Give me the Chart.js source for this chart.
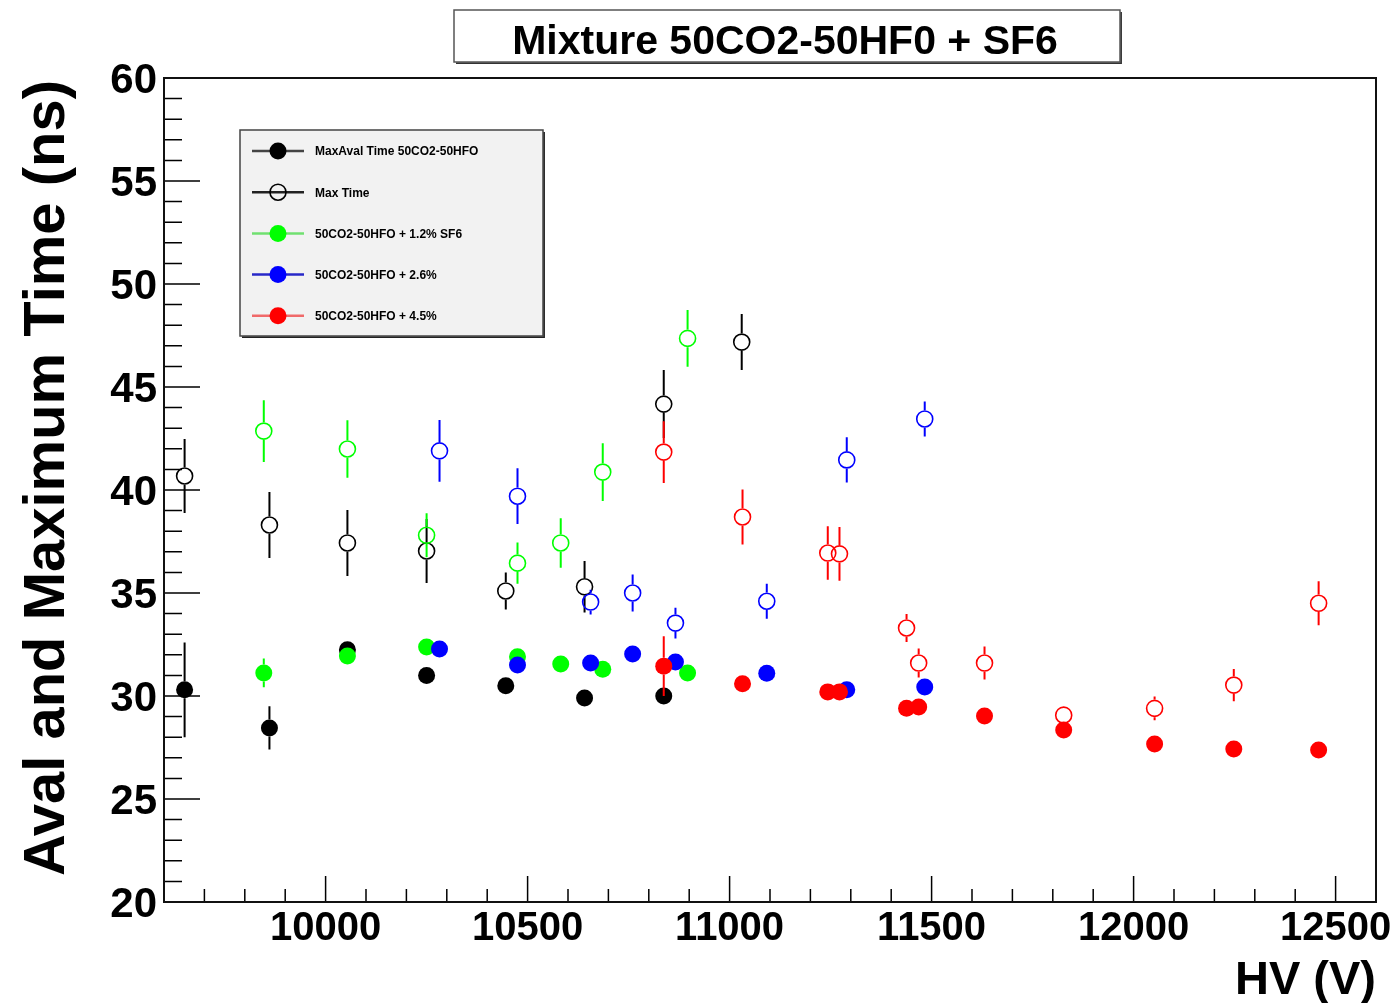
<!DOCTYPE html>
<html>
<head>
<meta charset="utf-8">
<title>Mixture 50CO2-50HF0 + SF6</title>
<script src="https://cdn.jsdelivr.net/npm/chart.js@4.4.1/dist/chart.umd.min.js"></script>
<style>
  html, body { margin: 0; padding: 0; background: #fff; }
  canvas { display: block; }
</style>
</head>
<body>
<canvas id="chart" width="1391" height="1003"></canvas>
<script>
const FONT = '"Liberation Sans", Arial, Helvetica, sans-serif';

// Axis ranges and labelled ticks
const xMin = 9600, xMax = 12600;
const yMin = 20, yMax = 60;
const xTickValues = [10000, 10500, 11000, 11500, 12000, 12500];
const yTickValues = [20, 25, 30, 35, 40, 45, 50, 55, 60];

// Text
const titleText = 'Mixture 50CO2-50HF0 + SF6';
const xTitle = 'HV (V)';
const yTitle = 'Aval and Maximum Time (ns)';
const legendLabels = [
  'MaxAval Time 50CO2-50HFO',
  'Max Time',
  '50CO2-50HFO + 1.2% SF6',
  '50CO2-50HFO + 2.6%',
  '50CO2-50HFO + 4.5%'
];

// 50CO2-50HFO, no SF6
const hvPure = [9651, 9861, 10054, 10250, 10446, 10641, 10837];
const avalPure = [30.3, 28.45, 32.25, 31.0, 30.5, 29.9, 30.0];
const avalPureErr = [2.3, 1.05, 0.3, 0.3, 0.3, 0.3, 0.3];
const hvPureMax = [9651, 9861, 10054, 10250, 10446, 10641, 10837, 11030];
const maxPure = [40.68, 38.3, 37.43, 37.04, 35.1, 35.3, 44.17, 47.18];
const maxPureErr = [1.8, 1.6, 1.6, 1.55, 0.9, 1.25, 1.65, 1.36];

// + 1.2% SF6
const hvSF12 = [9847, 10054, 10250, 10475, 10582, 10686, 10896];
const avalSF12 = [31.12, 31.94, 32.38, 31.9, 31.55, 31.3, 31.12];
const avalSF12Err = [0.7, 0.3, 0.3, 0.3, 0.3, 0.3, 0.3];
const maxSF12 = [42.86, 41.99, 37.8, 36.45, 37.43, 40.87, 47.36];
const maxSF12Err = [1.5, 1.4, 1.07, 1.0, 1.2, 1.4, 1.38];

// + 2.6% SF6
const hvSF26 = [10282, 10475, 10656, 10760, 10866, 11092, 11290, 11483];
const avalSF26 = [32.28, 31.5, 31.6, 32.04, 31.65, 31.1, 30.3, 30.44];
const avalSF26Err = [0.3, 0.3, 0.3, 0.3, 0.3, 0.3, 0.3, 0.3];
const maxSF26 = [41.9, 39.7, 34.56, 35.0, 33.54, 34.6, 41.46, 43.45];
const maxSF26Err = [1.5, 1.35, 0.6, 0.9, 0.75, 0.85, 1.1, 0.85];

// + 4.5% SF6
const hvSF45 = [10837, 11032, 11243, 11272, 11438, 11468, 11631, 11827, 12052, 12248, 12458];
const avalSF45 = [31.45, 30.6, 30.2, 30.2, 29.4, 29.47, 29.03, 28.35, 27.67, 27.43, 27.38];
const avalSF45Err = [1.45, 0.3, 0.3, 0.3, 0.3, 0.3, 0.3, 0.3, 0.3, 0.3, 0.3];
const maxSF45 = [41.84, 38.69, 36.94, 36.9, 33.3, 31.6, 31.6, 29.07, 29.4, 30.53, 34.5];
const maxSF45Err = [1.5, 1.33, 1.3, 1.3, 0.68, 0.7, 0.8, 0.4, 0.58, 0.78, 1.07];

const BLACK = '#000000', GREEN = '#00ff00', BLUE = '#0000ff', RED = '#ff0000';
const FILLED_R = 8.5, OPEN_R = 8, OPEN_W = 1.6;

function pts(xs, ys) { return xs.map((x, i) => ({ x: x, y: ys[i] })); }

function filledSet(label, xs, ys, errs, color, order, legendLine) {
  return {
    label: label, data: pts(xs, ys), errors: errs, order: order,
    pointRadius: FILLED_R, pointBorderWidth: 0,
    pointBackgroundColor: color, pointBorderColor: color,
    borderColor: color, backgroundColor: color, filled: true,
    legendLine: legendLine
  };
}
function openSet(label, xs, ys, errs, color, order, legendLine) {
  return {
    label: label, data: pts(xs, ys), errors: errs, order: order,
    pointRadius: OPEN_R, pointBorderWidth: OPEN_W,
    pointBackgroundColor: 'rgba(0,0,0,0)', pointBorderColor: color,
    borderColor: color, backgroundColor: 'rgba(0,0,0,0)', filled: false,
    legendLine: legendLine
  };
}

const datasets = [
  filledSet(legendLabels[0], hvPure, avalPure, avalPureErr, BLACK, 10, '#444'),
  openSet(legendLabels[1], hvPureMax, maxPure, maxPureErr, BLACK, 9, '#222'),
  filledSet(legendLabels[2], hvSF12, avalSF12, avalSF12Err, GREEN, 8, '#70e070'),
  openSet(legendLabels[2] + ' (max)', hvSF12, maxSF12, maxSF12Err, GREEN, 7, null),
  filledSet(legendLabels[3], hvSF26, avalSF26, avalSF26Err, BLUE, 6, '#2828c8'),
  openSet(legendLabels[3] + ' (max)', hvSF26, maxSF26, maxSF26Err, BLUE, 5, null),
  filledSet(legendLabels[4], hvSF45, avalSF45, avalSF45Err, RED, 4, '#f06a6a'),
  openSet(legendLabels[4] + ' (max)', hvSF45, maxSF45, maxSF45Err, RED, 3, null)
];
datasets[0].inLegend = true;
datasets[1].inLegend = true;
datasets[2].inLegend = true;
datasets[4].inLegend = true;
datasets[6].inLegend = true;

// Vertical error bars, broken at the marker edge, drawn just beneath each dataset's markers
const errorBars = {
  id: 'errorBars',
  beforeDatasetDraw(chart, args) {
    const ds = chart.data.datasets[args.index];
    if (!ds.errors) return;
    const ys = chart.scales.y;
    const ctx = chart.ctx;
    const r = ds.filled ? ds.pointRadius : ds.pointRadius + ds.pointBorderWidth / 2;
    ctx.save();
    ctx.strokeStyle = ds.borderColor;
    ctx.lineWidth = 2;
    ctx.beginPath();
    args.meta.data.forEach((pt, i) => {
      const v = ds.data[i].y, e = ds.errors[i];
      const top = ys.getPixelForValue(v + e);
      const bot = ys.getPixelForValue(v - e);
      if (pt.y - top > r) { ctx.moveTo(pt.x, top); ctx.lineTo(pt.x, pt.y - r); }
      if (bot - pt.y > r) { ctx.moveTo(pt.x, pt.y + r); ctx.lineTo(pt.x, bot); }
    });
    ctx.stroke();
    ctx.restore();
  }
};

// Frame, inward ticks, title box, axis titles and legend box
const decor = {
  id: 'decor',
  afterDraw(chart) {
    const ctx = chart.ctx;
    const a = chart.chartArea;
    const x = chart.scales.x, y = chart.scales.y;
    ctx.save();

    ctx.strokeStyle = '#000';
    ctx.lineWidth = 1.5;
    ctx.beginPath();
    for (let v = yMin; v <= yMax; v += 1) {
      const py = y.getPixelForValue(v);
      const len = v % 5 === 0 ? 36 : 18;
      ctx.moveTo(a.left, py); ctx.lineTo(a.left + len, py);
    }
    for (let v = 9700; v < xMax; v += 100) {
      const px = x.getPixelForValue(v);
      const len = v % 500 === 0 ? 26 : 13;
      ctx.moveTo(px, a.bottom); ctx.lineTo(px, a.bottom - len);
    }
    ctx.stroke();

    ctx.lineWidth = 2;
    ctx.strokeStyle = '#111';
    ctx.strokeRect(a.left, a.top, a.right - a.left, a.bottom - a.top);

    // title box
    const tb = { l: 454, t: 10, r: 1120, b: 62 };
    ctx.fillStyle = '#fff';
    ctx.fillRect(tb.l, tb.t, tb.r - tb.l, tb.b - tb.t);
    ctx.strokeStyle = '#555';
    ctx.lineWidth = 1.5;
    ctx.strokeRect(tb.l, tb.t, tb.r - tb.l, tb.b - tb.t);
    ctx.strokeStyle = '#333';
    ctx.lineWidth = 1.5;
    ctx.beginPath();
    ctx.moveTo(tb.l + 2, tb.b + 1.2); ctx.lineTo(tb.r + 1.2, tb.b + 1.2); ctx.lineTo(tb.r + 1.2, tb.t + 2);
    ctx.stroke();
    ctx.fillStyle = '#000';
    ctx.font = 'bold 41px ' + FONT;
    ctx.textAlign = 'center';
    ctx.textBaseline = 'alphabetic';
    ctx.fillText(titleText, 785, 54);

    // axis titles
    ctx.font = 'bold 47px ' + FONT;
    ctx.textAlign = 'right';
    ctx.fillText(xTitle, a.right, 994);
    ctx.save();
    ctx.translate(64, (a.top + a.bottom) / 2 - 12);
    ctx.rotate(-Math.PI / 2);
    ctx.font = 'bold 58px ' + FONT;
    ctx.textAlign = 'center';
    ctx.fillText(yTitle, 0, 0);
    ctx.restore();

    // legend
    const lb = { l: 240, t: 130, r: 543, b: 336 };
    ctx.fillStyle = '#f2f2f2';
    ctx.fillRect(lb.l, lb.t, lb.r - lb.l, lb.b - lb.t);
    ctx.strokeStyle = '#444';
    ctx.lineWidth = 1.5;
    ctx.strokeRect(lb.l, lb.t, lb.r - lb.l, lb.b - lb.t);
    ctx.strokeStyle = '#222';
    ctx.beginPath();
    ctx.moveTo(lb.l + 2, lb.b + 1.2); ctx.lineTo(lb.r + 1.2, lb.b + 1.2); ctx.lineTo(lb.r + 1.2, lb.t + 2);
    ctx.stroke();

    const entries = chart.data.datasets.filter(d => d.inLegend);
    entries.forEach((d, i) => {
      const cy = lb.t + 21 + i * 41.2;
      ctx.strokeStyle = d.legendLine;
      ctx.lineWidth = 2.5;
      ctx.beginPath();
      ctx.moveTo(252, cy); ctx.lineTo(304, cy);
      ctx.stroke();
      ctx.beginPath();
      if (d.filled) {
        ctx.fillStyle = d.pointBackgroundColor;
        ctx.arc(278, cy, FILLED_R, 0, Math.PI * 2);
        ctx.fill();
      } else {
        ctx.strokeStyle = d.pointBorderColor;
        ctx.lineWidth = OPEN_W;
        ctx.arc(278, cy, OPEN_R, 0, Math.PI * 2);
        ctx.stroke();
      }
      ctx.fillStyle = '#000';
      ctx.font = 'bold 12px ' + FONT;
      ctx.textAlign = 'left';
      ctx.textBaseline = 'middle';
      ctx.fillText(d.label, 315, cy + 1);
    });

    ctx.restore();
  }
};

new Chart(document.getElementById('chart'), {
  type: 'scatter',
  data: { datasets: datasets },
  plugins: [errorBars, decor],
  options: {
    responsive: false,
    animation: false,
    events: [],
    layout: { padding: { top: 78, right: 15, left: 0, bottom: 0 } },
    plugins: { legend: { display: false }, tooltip: { enabled: false }, title: { display: false } },
    scales: {
      x: {
        type: 'linear', min: xMin, max: xMax,
        grid: { display: false }, border: { display: false },
        afterBuildTicks: s => { s.ticks = xTickValues.map(v => ({ value: v })); },
        afterFit: s => { s.height = 101; s.paddingLeft = 0; s.paddingRight = 0; },
        ticks: {
          autoSkip: false, maxRotation: 0, padding: -5, color: '#000',
          font: { family: FONT, size: 40, weight: 'bold' },
          callback: v => String(v)
        }
      },
      y: {
        type: 'linear', min: yMin, max: yMax,
        grid: { display: false }, border: { display: false },
        afterBuildTicks: s => { s.ticks = yTickValues.map(v => ({ value: v })); },
        afterFit: s => { s.width = 164; s.paddingTop = 0; s.paddingBottom = 0; },
        ticks: {
          autoSkip: false, padding: -1, labelOffset: 3, color: '#000',
          font: { family: FONT, size: 42, weight: 'bold' },
          callback: v => String(v)
        }
      }
    }
  }
});
</script>
</body>
</html>
